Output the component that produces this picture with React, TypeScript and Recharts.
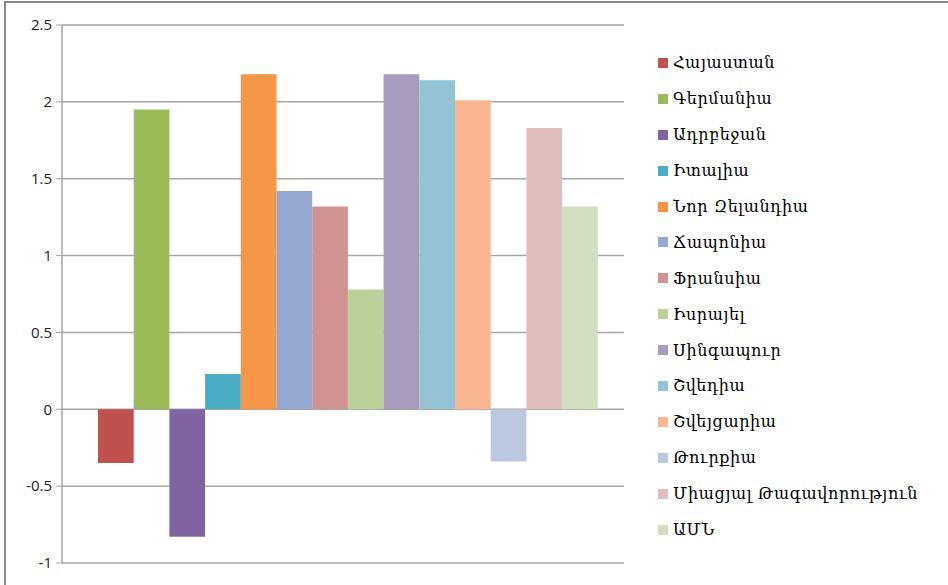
import { BarChart, Bar, XAxis, YAxis, CartesianGrid } from "recharts";

const COUNTRIES = [
  "Հայաստան", "Գերմանիա", "Ադրբեջան", "Իտալիա", "Նոր Զելանդիա", "Ճապոնիա", "Ֆրանսիա",
  "Իսրայել", "Սինգապուր", "Շվեդիա", "Շվեյցարիա", "Թուրքիա", "Միացյալ Թագավորություն", "ԱՄՆ",
];
const VALUES = [-0.35, 1.95, -0.83, 0.23, 2.18, 1.42, 1.32, 0.78, 2.18, 2.14, 2.01, -0.34, 1.83, 1.32];
const COLORS = [
  "#C0504D", "#9BBB59", "#8064A2", "#4BACC6", "#F79646", "#95A9D0", "#D19392",
  "#BCD199", "#A99BBD", "#93C3D4", "#F9B690", "#BBC8E0", "#E1BDBD", "#D2DEC0",
];
const Y_TICKS = [-1, -0.5, 0, 0.5, 1, 1.5, 2, 2.5];

const row: Record<string, string | number> = { name: "" };
COUNTRIES.forEach((c, i) => { row[`s${i}`] = VALUES[i]; });
const data = [row];

function LegendBox() {
  return (
    <div style={{ position: "absolute", left: 658, top: 45, fontFamily: "'DejaVu Serif', serif", fontSize: 16, letterSpacing: 0.6, color: "#000" }}>
      {COUNTRIES.map((c, i) => (
        <div key={c} style={{ display: "flex", alignItems: "center", height: 35.9, whiteSpace: "nowrap" }}>
          <span style={{ width: 10, height: 10, background: COLORS[i], marginRight: 5, display: "inline-block" }} />
          <span>{c}</span>
        </div>
      ))}
    </div>
  );
}

export default function App() {
  return (
    <div style={{ position: "absolute", left: 0, top: 0, width: 948, height: 585, overflow: "hidden", background: "#fff" }}>
      <div style={{ position: "absolute", left: 4, top: 1, width: 1000, height: 700, border: "2px solid #8a8a8a" }} />
      <div style={{ position: "absolute", left: 0, top: 0 }}>
        <BarChart width={948} height={585} data={data} barGap={0} barSize={35.7}
          margin={{ top: 25, right: 324, bottom: 22, left: 0 }}>
          <CartesianGrid vertical={false} stroke="#a6a6a6" strokeWidth={1.5} />
          <XAxis dataKey="name" hide padding={{ left: 10, right: 0 }} />
          <YAxis domain={[-1, 2.5]} ticks={Y_TICKS} width={62} interval={0}
            axisLine={{ stroke: "#a6a6a6", strokeWidth: 1.5 }} tickLine={{ stroke: "#a6a6a6" }}
            tickSize={6} tickMargin={4}
            tick={{ fontSize: 15, fill: "#222", fontFamily: "'Open Sans', sans-serif" }} />
          {COUNTRIES.map((c, i) => (
            <Bar key={c} dataKey={`s${i}`} name={c} fill={COLORS[i]} isAnimationActive={false} />
          ))}
        </BarChart>
      </div>
      <LegendBox />
    </div>
  );
}
